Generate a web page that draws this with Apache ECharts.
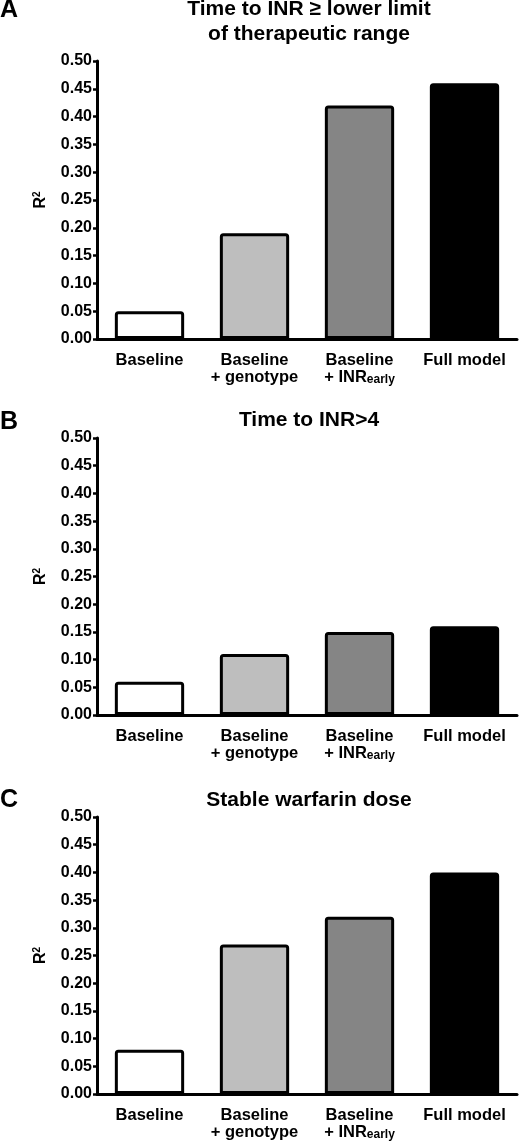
<!DOCTYPE html>
<html>
<head>
<meta charset="utf-8">
<script src="https://cdn.jsdelivr.net/npm/echarts@6/dist/echarts.min.js"></script>
<style>
html,body{margin:0;padding:0;background:#fff;}
#chart{width:520px;height:1146px;}
</style>
</head>
<body>
<div id="chart"></div>
<script>
// ---- data ----
const categories = ['Baseline', 'Baseline\n+ genotype', 'Baseline\n+ INR_early', 'Full model'];
const panelLetters = ['A', 'B', 'C'];
const panelTitles = [
  ['Time to INR \u2265 lower limit', 'of therapeutic range'],
  ['Time to INR>4'],
  ['Stable warfarin dose']
];
const valuesA = [0.05, 0.19, 0.42, 0.46];
const valuesB = [0.06, 0.11, 0.15, 0.16];
const valuesC = [0.08, 0.27, 0.32, 0.40];
const yTicks = { min: 0, max: 0.5, interval: 0.05 };
const yAxisName = ['R', '2'];

// ---- style ----
const FONT = "'Liberation Sans', Arial, Helvetica, sans-serif";
const barColors = ['#ffffff', '#bebebe', '#858585', '#000000'];
const grids = [
  { top: 61, height: 278 },
  { top: 438, height: 277 },
  { top: 817, height: 277 }
];
const titleY = [[9, 34], [420], [800]];
const letterY = [11, 423, 801];
const allValues = [valuesA, valuesB, valuesC];

function fmtCat(v) {
  return v.split('\n').map(function (l) {
    const m = l.match(/^(.*)_(\w+)$/);
    return m ? '{b|' + m[1] + '}{s|' + m[2] + '}' : '{b|' + l + '}';
  }).join('\n');
}

const option = {
  animation: false,
  backgroundColor: '#fff',
  grid: grids.map(function (g) { return { left: 97, right: 3, top: g.top, height: g.height }; }),
  xAxis: grids.map(function (g, i) {
    return {
      type: 'category', gridIndex: i, data: categories,
      axisLine: { show: true, lineStyle: { color: '#000', width: 3 } },
      axisTick: { show: false },
      axisLabel: {
        interval: 0, margin: 13, color: '#000', formatter: fmtCat,
        rich: {
          b: { fontFamily: FONT, fontWeight: 'bold', fontSize: 16.5, lineHeight: 17, color: '#000' },
          s: { fontFamily: FONT, fontWeight: 'bold', fontSize: 12, lineHeight: 9, verticalAlign: 'bottom', color: '#000' }
        }
      }
    };
  }),
  yAxis: grids.map(function (g, i) {
    return {
      type: 'value', gridIndex: i, min: yTicks.min, max: yTicks.max, interval: yTicks.interval,
      name: '{r|' + yAxisName[0] + '}{p|' + yAxisName[1] + '}', nameLocation: 'middle', nameRotate: 90, nameGap: 47,
      nameTextStyle: {
        fontFamily: FONT, fontWeight: 'bold', fontSize: 16, color: '#000',
        rich: {
          r: { fontFamily: FONT, fontWeight: 'bold', fontSize: 16, lineHeight: 18, color: '#000' },
          p: { fontFamily: FONT, fontWeight: 'bold', fontSize: 10, lineHeight: 10, verticalAlign: 'top', color: '#000' }
        }
      },
      axisLine: { show: true, lineStyle: { color: '#000', width: 3 } },
      axisTick: { show: true, length: 4, lineStyle: { color: '#000', width: 2.5 } },
      splitLine: { show: false },
      axisLabel: {
        margin: 5, color: '#000', fontFamily: FONT, fontWeight: 'bold', fontSize: 16,
        formatter: function (v) { return v.toFixed(2); }
      }
    };
  }),
  graphic: [],
  series: allValues.map(function (vals, i) {
    return {
      type: 'bar', xAxisIndex: i, yAxisIndex: i, barCategoryGap: '34%',
      data: vals.map(function (v, j) {
        return { value: v, itemStyle: { color: barColors[j], borderColor: '#000', borderWidth: 3, borderRadius: [2, 2, 0, 0] } };
      })
    };
  })
};

panelLetters.forEach(function (L, i) {
  option.graphic.push({
    type: 'text', left: 0, top: letterY[i] - 13,
    style: { text: L, fontFamily: FONT, fontWeight: 'bold', fontSize: 25, fill: '#000' }
  });
  panelTitles[i].forEach(function (t, k) {
    option.graphic.push({
      type: 'text', x: 309, y: titleY[i][k],
      style: { text: t, fontFamily: FONT, fontWeight: 'bold', fontSize: 21, fill: '#000', align: 'center', verticalAlign: 'middle' }
    });
  });
});

const chart = echarts.init(document.getElementById('chart'), null, { renderer: 'canvas' });
chart.setOption(option);
</script>
</body>
</html>
